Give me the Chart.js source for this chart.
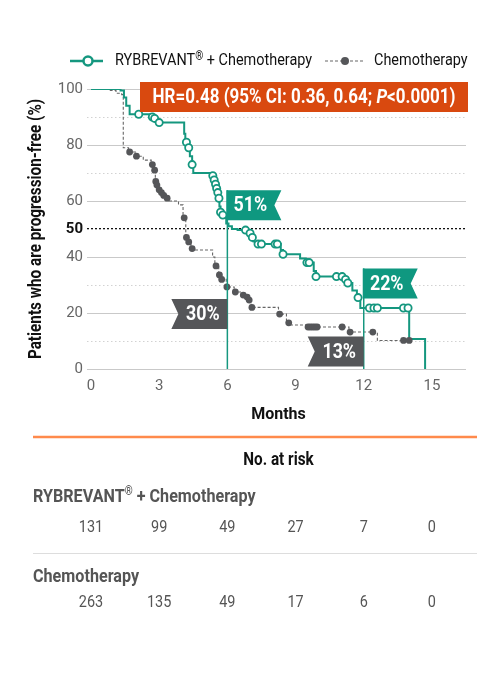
<!DOCTYPE html>
<html>
<head>
<meta charset="utf-8">
<script src="https://cdn.jsdelivr.net/npm/chart.js@4.4.1/dist/chart.umd.min.js"></script>
<style>
  html, body { margin: 0; padding: 0; background: #fff; }
  #wrap { width: 492px; height: 674px; position: relative; }
</style>
</head>
<body>
<div id="wrap"><canvas id="pfsChart"></canvas></div>
<script>
// --- Kaplan-Meier curves (months, % progression-free) ---
const rybMonths = [0, 1.3, 1.45, 1.55, 1.7, 2.65, 2.75, 2.9, 3.05, 4.1, 4.15, 4.25, 4.35, 4.45, 4.5,
  5.35, 5.4, 5.45, 5.5, 5.55, 5.6, 5.65, 5.7, 5.85, 5.95, 6.05, 6.2, 6.45, 6.9, 7.05, 7.15, 7.3,
  8.35, 8.45, 9.2, 9.45, 9.8, 9.9, 11.15, 11.3, 11.5, 11.7, 11.85, 14.0, 14.7];
const rybPct = [100, 99.5, 97, 94, 91, 90, 89.5, 88.5, 88, 84, 81, 79, 76, 73, 70,
  69, 67.5, 66, 64.5, 63, 61, 58, 56, 54, 52, 51, 50, 49.6, 48.5, 47, 45.5, 44.6,
  42.5, 41, 39.5, 38, 35, 33, 32, 30.7, 28, 25.5, 21.8, 10.7, 0];
const rybCensorMonths = [2.1, 2.7, 2.8, 3.0, 4.2, 4.3, 4.45, 5.36, 5.42, 5.48, 5.53, 5.58, 5.63, 5.7, 5.8,
  6.8, 7.0, 7.1, 7.35, 7.5, 8.1, 8.2, 8.45, 9.5, 9.6, 9.9, 10.8, 11.05, 11.2, 11.3, 11.75,
  12.25, 12.45, 12.6, 13.75, 13.95];
const rybCensorPct = [91, 90, 89.5, 88, 81, 79, 73, 69, 67.5, 66, 64.5, 63, 61, 56, 55,
  49.6, 48.5, 47, 44.6, 44.6, 44.6, 44.6, 41, 38, 38, 33, 33, 33, 32, 30.7, 25.5,
  21.8, 21.8, 21.8, 21.8, 21.8];

const chemoMonths = [0, 0.85, 1.1, 1.35, 1.42, 1.65, 1.95, 2.3, 2.65, 2.78, 2.83, 2.88, 2.97, 3.07, 3.17,
  3.3, 3.45, 3.85, 4.05, 4.17, 4.28, 4.4, 4.5, 5.35, 5.45, 5.62, 5.72, 5.95, 6.3, 6.65, 6.83, 6.93,
  7.05, 8.25, 8.6, 8.75, 9.45, 11.35, 12.6, 14.05];
const chemoPct = [100, 99.5, 98.5, 98, 79, 77.5, 76, 74.6, 73, 71, 67, 65.7, 64, 63, 62,
  61, 60, 58.6, 54, 47, 45.4, 43, 42.5, 40, 36.8, 33.6, 32, 29.3, 27.5, 26.4, 25.7, 24.6,
  22, 19.6, 16.5, 15.7, 15, 13.2, 10.2, 10.2];
const chemoCensorMonths = [1.7, 2.0, 2.7, 2.8, 2.85, 2.9, 3.0, 3.1, 3.2, 3.35, 4.1, 4.2, 4.3, 4.45,
  5.5, 5.65, 5.75, 5.98, 6.35, 6.7, 6.87, 6.96, 7.08, 8.3, 8.7, 9.55, 9.65, 9.75, 9.85, 9.95,
  11.05, 11.4, 12.4, 13.75, 14.0];
const chemoCensorPct = [77.5, 76, 73, 71, 67, 65.7, 64, 63, 62, 61, 54, 47, 45.4, 43,
  36.8, 33.6, 32, 29.3, 27.5, 26.4, 25.7, 24.6, 22, 19.6, 16.5, 15, 15, 15, 15, 15,
  15, 13.2, 13.2, 10.2, 10.2];

// --- Axes, callouts and risk table ---
const xTicks = [0, 3, 6, 9, 12, 15];
const yGrid = [0, 10, 20, 30, 40, 50, 60, 70, 80, 90, 100];
const yLabels = [0, 20, 40, 50, 60, 80, 100];
const flagMonths = [6, 12];
const rybFlagPct = [51, 22];
const chemoFlagPct = [30, 13];
const riskRyb = [131, 99, 49, 27, 7, 0];
const riskChemo = [263, 135, 49, 17, 6, 0];

const TEAL = '#15977f';
const TEAL_FLAG = '#0f9880';
const GRAY = '#555659';
const FONT = 'Roboto, "Noto Sans", sans-serif';
const SQUEEZE = 0.85; // the source uses a condensed face

function toPoints(xs, ys) {
  return xs.map((x, i) => ({ x: x, y: ys[i] }));
}

// tick value from a scriptable context (undefined outside of ticks)
function tickValue(c) {
  return c && c.tick ? c.tick.value : null;
}

// draws a row of text runs, squeezed horizontally
function drawRuns(ctx, runs, x, y, color, align) {
  let total = 0;
  runs.forEach(r => {
    ctx.font = r.font;
    r.w = ctx.measureText(r.text).width * SQUEEZE;
    total += r.w;
  });
  let cx = align === 'center' ? x - total / 2 : x;
  runs.forEach(r => {
    ctx.save();
    ctx.font = r.font;
    ctx.fillStyle = color;
    ctx.textBaseline = 'middle';
    ctx.textAlign = 'left';
    ctx.translate(cx, y + (r.dy || 0));
    ctx.scale(SQUEEZE, 1);
    ctx.fillText(r.text, 0, 0);
    ctx.restore();
    cx += r.w;
  });
}

function drawFlag(ctx, x, top, w, h, notch, color, text) {
  const n = 7;
  ctx.save();
  ctx.fillStyle = color;
  ctx.beginPath();
  if (notch === 'right') {
    ctx.moveTo(x, top);
    ctx.lineTo(x + w, top);
    ctx.lineTo(x + w - n, top + h / 2);
    ctx.lineTo(x + w, top + h);
    ctx.lineTo(x, top + h);
  } else {
    ctx.moveTo(x + w, top);
    ctx.lineTo(x, top);
    ctx.lineTo(x + n, top + h / 2);
    ctx.lineTo(x, top + h);
    ctx.lineTo(x + w, top + h);
  }
  ctx.closePath();
  ctx.fill();
  ctx.restore();
  const cx = notch === 'right' ? x + (w - n) / 2 : x + n + (w - n) / 2;
  drawRuns(ctx, [{ text: text, font: 'bold 21px ' + FONT }], cx, top + h / 2 + 1, '#fff', 'center');
}

const overlay = {
  id: 'overlay',
  afterDatasetsDraw(chart) {
    const ctx = chart.ctx;
    const xs = chart.scales.x;
    const ys = chart.scales.y;
    const tealLift = [36, 39];
    const grayDrop = [14, 4];

    flagMonths.forEach((m, i) => {
      const px = xs.getPixelForValue(m);
      const tealTop = ys.getPixelForValue(rybFlagPct[i]) - tealLift[i];
      // flag pole down to the axis
      ctx.save();
      ctx.strokeStyle = TEAL;
      ctx.lineWidth = 1.5;
      ctx.beginPath();
      ctx.moveTo(px, tealTop);
      ctx.lineTo(px, ys.getPixelForValue(0));
      ctx.stroke();
      ctx.restore();
      drawFlag(ctx, px - 1, tealTop, 55, 30, 'right', TEAL_FLAG, rybFlagPct[i] + '%');
      const grayTop = ys.getPixelForValue(chemoFlagPct[i]) + grayDrop[i];
      drawFlag(ctx, px - 56, grayTop, 56, 30, 'left', GRAY, chemoFlagPct[i] + '%');
    });

    // hazard ratio box
    ctx.save();
    ctx.fillStyle = '#d9490f';
    ctx.fillRect(140, 82, 328, 30);
    ctx.restore();
    const hrBold = 'bold 20px ' + FONT;
    drawRuns(ctx, [
      { text: 'HR=0.48 (95% CI: 0.36, 0.64; ', font: hrBold },
      { text: 'P', font: 'italic bold 20px ' + FONT },
      { text: '<0.0001)', font: hrBold }
    ], 304, 98, '#fff', 'center');
  },
  afterDraw(chart) {
    const ctx = chart.ctx;
    const xs = chart.scales.x;
    const area = chart.chartArea;

    // legend
    const ly = 61;
    ctx.save();
    ctx.strokeStyle = TEAL;
    ctx.lineWidth = 2.5;
    ctx.beginPath();
    ctx.moveTo(70, ly);
    ctx.lineTo(103, ly);
    ctx.stroke();
    ctx.fillStyle = '#fff';
    ctx.beginPath();
    ctx.arc(88, ly, 4.5, 0, Math.PI * 2);
    ctx.fill();
    ctx.stroke();
    ctx.strokeStyle = '#666';
    ctx.lineWidth = 1.1;
    ctx.setLineDash([3, 2]);
    ctx.beginPath();
    ctx.moveTo(325, ly);
    ctx.lineTo(365, ly);
    ctx.stroke();
    ctx.setLineDash([]);
    ctx.fillStyle = GRAY;
    ctx.beginPath();
    ctx.arc(345, ly, 4, 0, Math.PI * 2);
    ctx.fill();
    ctx.restore();
    const lf = '17px ' + FONT;
    drawRuns(ctx, [
      { text: 'RYBREVANT', font: lf },
      { text: '®', font: '12px ' + FONT, dy: -4 },
      { text: ' + Chemotherapy', font: lf }
    ], 115, ly, '#111', 'left');
    drawRuns(ctx, [{ text: 'Chemotherapy', font: lf }], 374, ly, '#111', 'left');

    // y axis title
    ctx.save();
    ctx.translate(36, (area.top + area.bottom) / 2);
    ctx.rotate(-Math.PI / 2);
    drawRuns(ctx, [{ text: 'Patients who are progression-free (%)', font: 'bold 18px ' + FONT }], 0, 0, '#111', 'center');
    ctx.restore();

    // number at risk
    ctx.save();
    ctx.strokeStyle = '#ff8a4c';
    ctx.lineWidth = 2.5;
    ctx.beginPath();
    ctx.moveTo(33, 437);
    ctx.lineTo(477, 437);
    ctx.stroke();
    ctx.strokeStyle = '#dddddd';
    ctx.lineWidth = 1;
    ctx.beginPath();
    ctx.moveTo(33, 553.5);
    ctx.lineTo(477, 553.5);
    ctx.stroke();
    ctx.restore();
    const head = 'bold 19px ' + FONT;
    drawRuns(ctx, [{ text: 'No. at risk', font: 'bold 18px ' + FONT }], (area.left + area.right) / 2, 460, '#111', 'center');
    drawRuns(ctx, [
      { text: 'RYBREVANT', font: head },
      { text: '®', font: 'bold 12px ' + FONT, dy: -5 },
      { text: ' + Chemotherapy', font: head }
    ], 33, 497, '#555', 'left');
    drawRuns(ctx, [{ text: 'Chemotherapy', font: head }], 33, 577, '#555', 'left');
    const numFont = '17px ' + FONT;
    xTicks.forEach((m, i) => {
      const px = xs.getPixelForValue(m);
      drawRuns(ctx, [{ text: String(riskRyb[i]), font: numFont }], px, 528, '#555', 'center');
      drawRuns(ctx, [{ text: String(riskChemo[i]), font: numFont }], px, 603, '#555', 'center');
    });
  }
};

function gridColor(v) {
  if (v === 50) return '#111';
  if (v === null) return '#c9c9c9';
  return v % 20 === 0 ? '#c9c9c9' : '#d2d2d2';
}
function gridDash(v) {
  if (v === 50) return [2, 2];
  if (v === null) return [];
  return v % 20 === 0 ? [] : [1.5, 2.5];
}

new Chart(document.getElementById('pfsChart'), {
  type: 'line',
  data: {
    datasets: [
      {
        label: 'RYBREVANT® + Chemotherapy',
        data: toPoints(rybMonths, rybPct),
        borderColor: TEAL,
        borderWidth: 2,
        stepped: true,
        pointRadius: 0,
        fill: false,
        order: 2
      },
      {
        label: 'Chemotherapy',
        data: toPoints(chemoMonths, chemoPct),
        borderColor: '#666',
        borderWidth: 1.1,
        borderDash: [3, 2],
        stepped: true,
        pointRadius: 0,
        fill: false,
        order: 3
      },
      {
        type: 'scatter',
        label: 'RYBREVANT censored',
        data: toPoints(rybCensorMonths, rybCensorPct),
        showLine: false,
        pointRadius: 3.6,
        pointBorderWidth: 1.8,
        pointBackgroundColor: '#fff',
        pointBorderColor: TEAL,
        order: 0
      },
      {
        type: 'scatter',
        label: 'Chemotherapy censored',
        data: toPoints(chemoCensorMonths, chemoCensorPct),
        showLine: false,
        pointRadius: 3.4,
        pointBorderWidth: 0,
        pointBackgroundColor: GRAY,
        order: 1
      }
    ]
  },
  options: {
    responsive: true,
    maintainAspectRatio: false,
    animation: false,
    layout: { padding: { left: 0, right: 26, top: 89, bottom: 249 } },
    plugins: { legend: { display: false }, tooltip: { enabled: false } },
    scales: {
      x: {
        type: 'linear',
        min: 0,
        max: 16.5,
        afterBuildTicks: s => { s.ticks = xTicks.map(v => ({ value: v })); },
        afterFit: s => { s.height = 56; },
        grid: { display: false, drawTicks: false },
        border: { display: false },
        ticks: { padding: 8, color: '#666', font: { family: FONT, size: 15 } },
        title: {
          display: true,
          text: 'Months',
          color: '#111',
          font: { family: FONT, size: 16, weight: 'bold' },
          padding: { top: 0, bottom: 0 }
        }
      },
      y: {
        type: 'linear',
        min: 0,
        max: 100,
        afterBuildTicks: s => { s.ticks = yGrid.map(v => ({ value: v })); },
        afterFit: s => { s.width = 91; },
        grid: {
          color: c => gridColor(tickValue(c)),
          tickColor: c => gridColor(tickValue(c)),
          tickBorderDash: c => gridDash(tickValue(c)),
          lineWidth: c => (tickValue(c) === 50 ? 1.3 : 1),
          tickLength: 4
        },
        border: { display: false, dash: c => gridDash(tickValue(c)) },
        ticks: {
          padding: 4,
          color: c => (tickValue(c) === 50 ? '#111' : '#666'),
          font: c => ({ family: FONT, size: 15, weight: tickValue(c) === 50 ? 'bold' : 'normal' }),
          callback: v => (yLabels.includes(v) ? String(v) : '')
        }
      }
    }
  },
  plugins: [overlay]
});
</script>
</body>
</html>
